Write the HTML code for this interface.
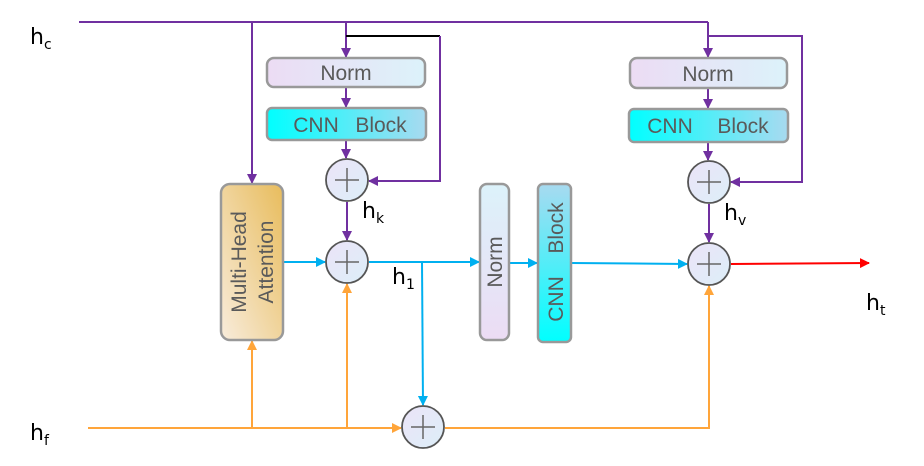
<!DOCTYPE html><html><head><meta charset="utf-8"><style>body{margin:0;background:#fff}svg{display:block}</style></head><body>
<svg width="924" height="466" xmlns="http://www.w3.org/2000/svg" font-family="Liberation Sans, sans-serif">
<defs>
<marker id="ap" markerWidth="10" markerHeight="10" refX="9" refY="5" orient="auto" markerUnits="userSpaceOnUse"><path d="M0,0L10,5L0,10z" fill="#7030a0"/></marker>
<marker id="ab" markerWidth="10" markerHeight="10" refX="9" refY="5" orient="auto" markerUnits="userSpaceOnUse"><path d="M0,0L10,5L0,10z" fill="#00b0f0"/></marker>
<marker id="ao" markerWidth="10" markerHeight="10" refX="9" refY="5" orient="auto" markerUnits="userSpaceOnUse"><path d="M0,0L10,5L0,10z" fill="#ffa53a"/></marker>
<marker id="ar" markerWidth="10" markerHeight="10" refX="9" refY="5" orient="auto" markerUnits="userSpaceOnUse"><path d="M0,0L10,5L0,10z" fill="#f00"/></marker>
<linearGradient id="gn" x1="0" y1="0" x2="1" y2="0"><stop offset="0" stop-color="#ecdcf4"/><stop offset="1" stop-color="#dcf2fa"/></linearGradient>
<linearGradient id="gnv" x1="0" y1="1" x2="0" y2="0"><stop offset="0" stop-color="#ecdcf4"/><stop offset="1" stop-color="#dcf2fa"/></linearGradient>
<linearGradient id="gc" x1="0" y1="0" x2="1" y2="0"><stop offset="0" stop-color="#00ffff"/><stop offset="1" stop-color="#a8daf0"/></linearGradient>
<linearGradient id="gcv" x1="0" y1="1" x2="0" y2="0"><stop offset="0" stop-color="#00ffff"/><stop offset="1" stop-color="#a8daf0"/></linearGradient>
<linearGradient id="gm" x1="1" y1="0" x2="0" y2="1"><stop offset="0" stop-color="#e8bc5c"/><stop offset="1" stop-color="#f8ecdc"/></linearGradient>
<linearGradient id="gp" x1="0" y1="0" x2="1" y2="1"><stop offset="0" stop-color="#ece4f8"/><stop offset="1" stop-color="#dceef8"/></linearGradient>
</defs>
<g fill="none" stroke-width="2">
<path d="M79,22H708" stroke="#7030a0"/>
<path d="M252,22V183" stroke="#7030a0" marker-end="url(#ap)"/>
<path d="M346,22V57" stroke="#7030a0" marker-end="url(#ap)"/>
<path d="M346,36H440" stroke="#000"/>
<path d="M440,36V181H369" stroke="#7030a0" marker-end="url(#ap)"/>
<path d="M346,87V107" stroke="#7030a0" marker-end="url(#ap)"/>
<path d="M346,140V158" stroke="#7030a0" marker-end="url(#ap)"/>
<path d="M347,202V240" stroke="#7030a0" marker-end="url(#ap)"/>
<path d="M708,22V57" stroke="#7030a0" marker-end="url(#ap)"/>
<path d="M708,36H802V182H731" stroke="#7030a0" marker-end="url(#ap)"/>
<path d="M708,88V108" stroke="#7030a0" marker-end="url(#ap)"/>
<path d="M708,142V160" stroke="#7030a0" marker-end="url(#ap)"/>
<path d="M709,204V242" stroke="#7030a0" marker-end="url(#ap)"/>
<path d="M284,262H325" stroke="#00b0f0" marker-end="url(#ab)"/>
<path d="M369,262H479" stroke="#00b0f0" marker-end="url(#ab)"/>
<path d="M509,263H537" stroke="#00b0f0" marker-end="url(#ab)"/>
<path d="M571,263L687,264" stroke="#00b0f0" marker-end="url(#ab)"/>
<path d="M422,262L423,405" stroke="#00b0f0" marker-end="url(#ab)"/>
<path d="M731,264L869,263" stroke="#f00" marker-end="url(#ar)"/>
<path d="M88,428H401" stroke="#ffa53a" marker-end="url(#ao)"/>
<path d="M252,428V341" stroke="#ffa53a" marker-end="url(#ao)"/>
<path d="M347,428V284" stroke="#ffa53a" marker-end="url(#ao)"/>
<path d="M445,428H709V286" stroke="#ffa53a" marker-end="url(#ao)"/>
</g>
<g stroke="#999" stroke-width="2.5">
<rect x="267" y="58" width="158" height="29" rx="7" fill="url(#gn)"/>
<rect x="267" y="108" width="159" height="32" rx="5" fill="url(#gc)"/>
<rect x="630" y="58" width="157" height="30" rx="7" fill="url(#gn)"/>
<rect x="629" y="109" width="159" height="33" rx="5" fill="url(#gc)"/>
<rect x="221" y="184" width="62" height="156" rx="9" fill="url(#gm)"/>
<rect x="480" y="184" width="29" height="156" rx="7" fill="url(#gnv)"/>
<rect x="538" y="184" width="33" height="158" rx="5" fill="url(#gcv)"/>
</g>
<g stroke="#555" stroke-width="1.8" fill="url(#gp)">
<circle cx="347" cy="180" r="21"/><circle cx="347" cy="262" r="21"/><circle cx="709" cy="182" r="21"/><circle cx="709" cy="264" r="21"/><circle cx="423" cy="427" r="21"/>
</g>
<g stroke="#666" stroke-width="1.5">
<path d="M335,180h24M347,168v24M335,262h24M347,250v24M697,182h24M709,170v24M697,264h24M709,252v24M411,427h24M423,415v24"/>
</g>
<g fill="#5a5a5a" font-size="21" text-anchor="middle">
<text x="346" y="80">Norm</text>
<text x="316" y="132">CNN</text><text x="381" y="132">Block</text>
<text x="708" y="81">Norm</text>
<text x="670" y="133">CNN</text><text x="743" y="133">Block</text>
<text transform="translate(246,262) rotate(-90)">Multi-Head</text>
<text transform="translate(273,262) rotate(-90)">Attention</text>
<text transform="translate(502,262) rotate(-90)">Norm</text>
<text transform="translate(563,299) rotate(-90)">CNN</text>
<text transform="translate(563,228) rotate(-90)">Block</text>
</g>
<g fill="#000" font-size="22" font-family="DejaVu Sans, sans-serif">
<text x="30" y="44">h<tspan font-size="14" dy="5">c</tspan></text>
<text x="30" y="440">h<tspan font-size="14" dy="5">f</tspan></text>
<text x="362" y="218">h<tspan font-size="14" dy="5">k</tspan></text>
<text x="392" y="284">h<tspan font-size="14" dy="5">1</tspan></text>
<text x="724" y="220">h<tspan font-size="14" dy="5">v</tspan></text>
<text x="866" y="310">h<tspan font-size="14" dy="5">t</tspan></text>
</g>
</svg>
</body></html>
